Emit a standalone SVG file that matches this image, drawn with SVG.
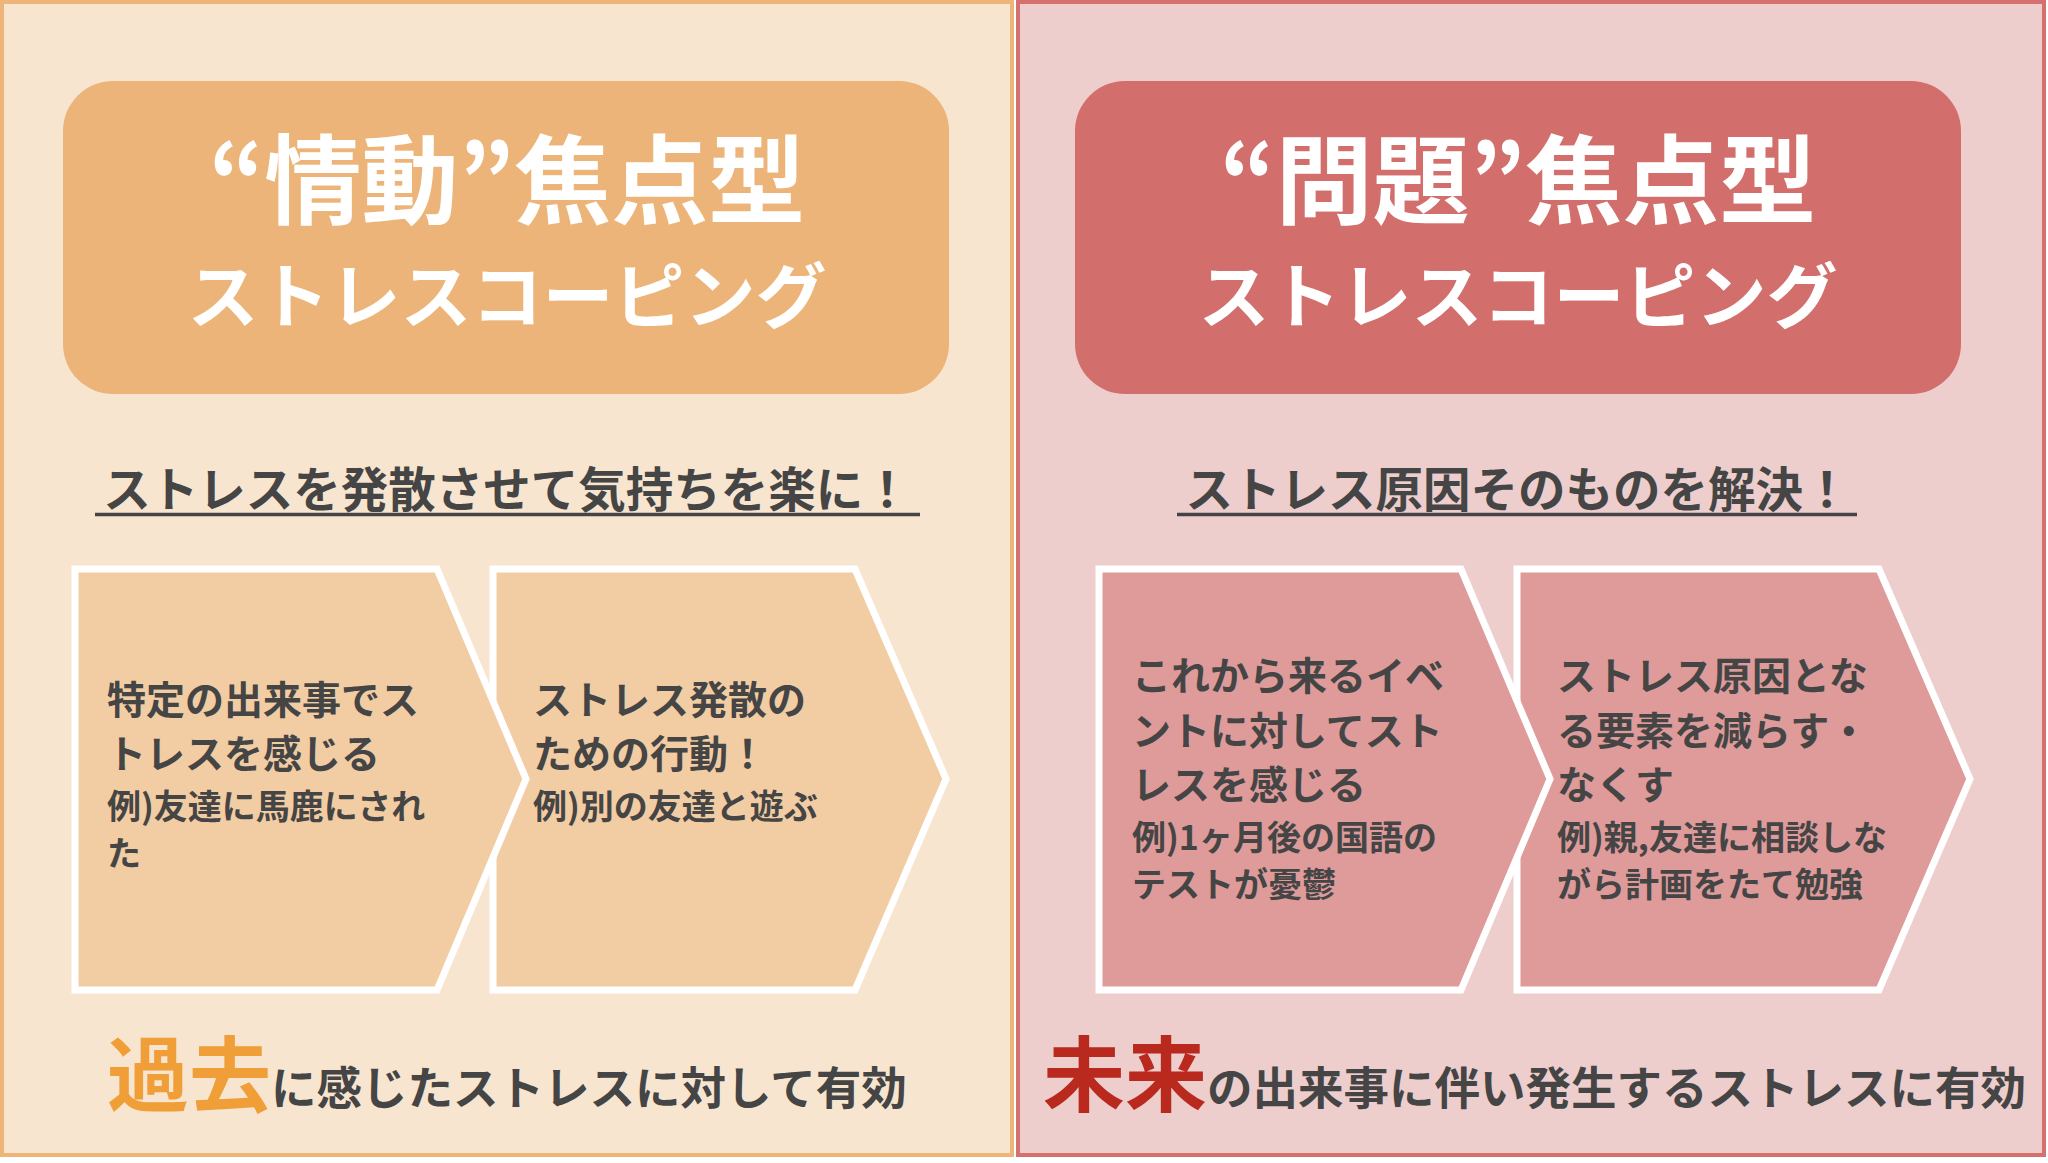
<svg xmlns="http://www.w3.org/2000/svg" width="2048" height="1163" viewBox="0 0 2048 1163">
<style>
text{font-family:"Noto Sans CJK JP","Noto Sans CJK SC",sans-serif;font-weight:700}
.title{fill:#fff;text-anchor:middle}
.t1{font-size:97px}
.t2{font-size:71px}
.sub{font-size:47.5px;fill:#454545;text-anchor:middle}
.body{font-size:39px;fill:#454545}
.ex{font-size:34px;fill:#454545}
.foot{font-size:45.5px;fill:#454545}
.chevL{fill:#F2CCA2;stroke:#fff;stroke-width:7;stroke-linejoin:miter}
.chevR{fill:#DE9B9A;stroke:#fff;stroke-width:7;stroke-linejoin:miter}
</style>
<rect x="0" y="0" width="2048" height="1163" fill="#fff"/>

<g id="panel-left">
<rect x="2" y="2" width="1010" height="1153" fill="#F8E5D0" stroke="#EDB577" stroke-width="4"/>
</g>
<g id="panel-right">
<rect x="1018" y="2" width="1026" height="1153" fill="#EDCECD" stroke="#D4706D" stroke-width="4"/>
</g>

<g id="title-left">
<rect x="63" y="81" width="886" height="313" rx="50" ry="50" fill="#ECB478"/>
<text class="title t1" x="507" y="216">“情動”焦点型</text>
<text class="title t2" x="507" y="322">ストレスコーピング</text>
</g>
<g id="title-right">
<rect x="1075" y="81" width="886" height="313" rx="50" ry="50" fill="#D26E6B"/>
<text class="title t1" x="1518" y="216">“問題”焦点型</text>
<text class="title t2" x="1518" y="322">ストレスコーピング</text>
</g>

<g id="subtitle-left">
<text class="sub" x="507" y="507">ストレスを発散させて気持ちを楽に！</text>
<line x1="95" y1="514.5" x2="920" y2="514.5" stroke="#454545" stroke-width="3.5"/>
</g>
<g id="subtitle-right">
<text class="sub" x="1518" y="507">ストレス原因そのものを解決！</text>
<line x1="1177" y1="514.5" x2="1857" y2="514.5" stroke="#454545" stroke-width="3.5"/>
</g>

<g id="chevron-left-2">
<polygon class="chevL" points="493,569 855,569 946,779 855,990 493,990"/>
<text class="body" x="533" y="714">ストレス発散の</text>
<text class="body" x="533" y="768">ための行動！</text>
<text class="ex" x="533" y="819">例)別の友達と遊ぶ</text>
</g>
<g id="chevron-left-1">
<polygon class="chevL" points="75,569 437,569 526,779 437,990 75,990"/>
<text class="body" x="107" y="714">特定の出来事でス</text>
<text class="body" x="107" y="768">トレスを感じる</text>
<text class="ex" x="107" y="819">例)友達に馬鹿にされ</text>
<text class="ex" x="107" y="866">た</text>
</g>

<g id="chevron-right-2">
<polygon class="chevR" points="1517,569 1879,569 1970,779 1879,990 1517,990"/>
<text class="body" x="1557" y="690">ストレス原因とな</text>
<text class="body" x="1557" y="744.5">る要素を減らす・</text>
<text class="body" x="1557" y="799">なくす</text>
<text class="ex" x="1557" y="850">例)親,友達に相談しな</text>
<text class="ex" x="1557" y="897">がら計画をたて勉強</text>
</g>
<g id="chevron-right-1">
<polygon class="chevR" points="1099,569 1461,569 1550,779 1461,990 1099,990"/>
<text class="body" x="1132" y="690">これから来るイベ</text>
<text class="body" x="1132" y="744.5">ントに対してスト</text>
<text class="body" x="1132" y="799">レスを感じる</text>
<text class="ex" x="1132" y="850">例)1ヶ月後の国語の</text>
<text class="ex" x="1132" y="897">テストが憂鬱</text>
</g>

<g id="footer-left">
<text class="foot" x="107" y="1105"><tspan font-size="82" fill="#F09E38">過去</tspan>に感じたストレスに対して有効</text>
</g>
<g id="footer-right">
<text class="foot" x="1043" y="1105"><tspan font-size="82" fill="#B9291E">未来</tspan>の出来事に伴い発生するストレスに有効</text>
</g>

<g id="connectors"></g>
</svg>
